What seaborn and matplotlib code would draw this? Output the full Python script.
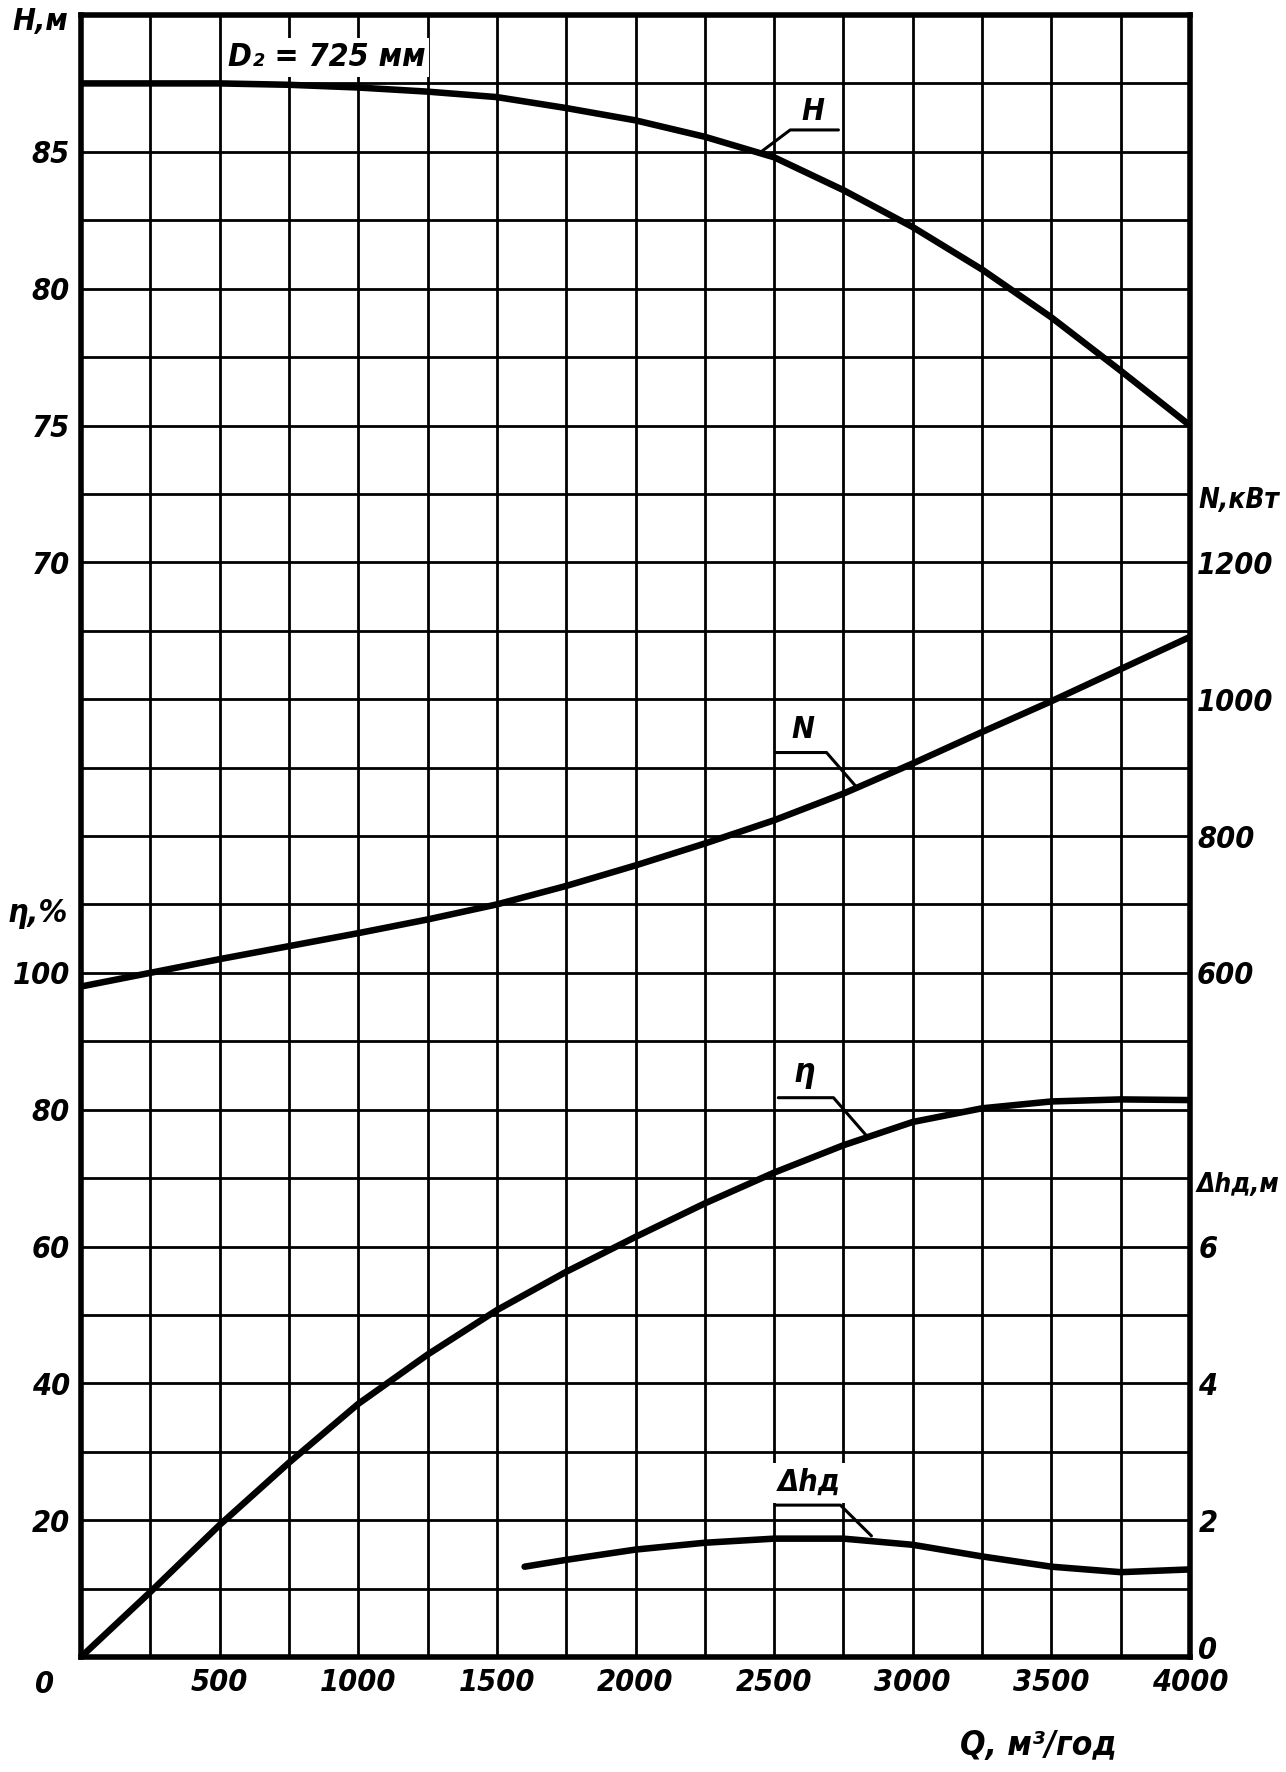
import numpy as np
import matplotlib
matplotlib.use('Agg')
import matplotlib.pyplot as plt
import seaborn as sns

# Pump curves, Q in m3/h
q = [0, 250, 500, 750, 1000, 1250, 1500, 1750, 2000, 2250, 2500, 2750, 3000, 3250, 3500, 3750, 4000]
head = [87.5, 87.5, 87.5, 87.45, 87.35, 87.2, 87.0, 86.6, 86.15, 85.55, 84.8, 83.6, 82.25, 80.7, 78.95, 77.0, 75.0]
power = [580, 600, 620, 639, 658, 678, 700, 727, 757, 789, 823, 862, 906, 952, 997, 1044, 1091]
eff = [0, 9.5, 19.3, 28.4, 37, 44.2, 50.7, 56.3, 61.4, 66.3, 70.8, 74.8, 78.2, 80.2, 81.2, 81.5, 81.4]
q_npsh = [1600, 1750, 2000, 2250, 2500, 2750, 3000, 3250, 3500, 3750, 4000]
npsh = [1.32, 1.42, 1.57, 1.67, 1.73, 1.73, 1.64, 1.47, 1.32, 1.24, 1.28]

# tick labels
q_ticks = [500, 1000, 1500, 2000, 2500, 3000, 3500, 4000]
h_ticks = [70, 75, 80, 85]
n_ticks = [600, 800, 1000, 1200]
eff_ticks = [20, 40, 60, 80, 100]
npsh_ticks = [2, 4, 6]

sns.set_theme(style='white')
plt.rcParams['font.family'] = ['DejaVu Sans']
plt.rcParams['font.style'] = 'oblique'
plt.rcParams['font.weight'] = 'bold'
plt.rcParams['font.stretch'] = 'condensed'
plt.rcParams['text.color'] = 'black'

W, H = 1286, 1772
fig, ax = plt.subplots(figsize=(W / 100, H / 100), dpi=100, facecolor='white')
fig.subplots_adjust(left=81 / W, right=1190 / W, bottom=1 - 1657 / H, top=1 - 15 / H)

ax_n = ax.twinx()
ax_eff = ax.twinx()
ax_dh = ax.twinx()

ax.set_xlim(0, 4000)
ax.set_ylim(30, 90)
ax_n.set_ylim(-400, 2000)
ax_eff.set_ylim(0, 240)
ax_dh.set_ylim(0, 24)

# grid: every 250 m3/h and every 2.5 m
ax.set_xticks([0] + q_ticks)
ax.set_xticklabels([''] + [str(t) for t in q_ticks])
ax.set_xticks(np.arange(0, 4001, 250), minor=True)
ax.set_yticks(h_ticks)
ax.set_yticks(np.arange(30, 90.01, 2.5), minor=True)
ax.grid(True, which='both', color='black', lw=2.0)
ax.tick_params(which='both', length=0, labelsize=22, colors='black')
ax.tick_params(axis='x', pad=8)
ax.tick_params(axis='y', pad=8)
for s in ax.spines.values():
    s.set_visible(True)
    s.set_color('black')
    s.set_linewidth(4)

for a in (ax_n, ax_eff, ax_dh):
    for s in a.spines.values():
        s.set_visible(False)
    a.grid(False)
    a.tick_params(length=0, labelsize=22, colors='black')

ax_n.set_yticks(n_ticks)
ax_n.tick_params(pad=5)
ax_eff.yaxis.tick_left()
ax_eff.set_yticks(eff_ticks)
ax_eff.tick_params(pad=8)
ax_dh.set_yticks(npsh_ticks)
ax_dh.tick_params(pad=6)

lw = 4.7
sns.lineplot(x=q, y=head, ax=ax, color='black', lw=lw, zorder=4)
sns.lineplot(x=q, y=power, ax=ax_n, color='black', lw=lw)
sns.lineplot(x=q, y=eff, ax=ax_eff, color='black', lw=lw)
sns.lineplot(x=q_npsh, y=npsh, ax=ax_dh, color='black', lw=lw)
for a in (ax, ax_n, ax_eff, ax_dh):
    a.set_xlabel('')
    a.set_ylabel('')

# curve labels with leader lines
fs = 22
ax.plot([2453, 2558, 2732], [85.0, 85.8, 85.8], color='black', lw=2.2, zorder=4)
ax.text(2640, 85.95, 'H', ha='center', va='bottom', fontsize=fs, zorder=5)
ax_n.plot([2794, 2689, 2504], [873, 922, 922], color='black', lw=2.2)
ax_n.text(2605, 934, 'N', ha='center', va='bottom', fontsize=fs)
ax_eff.plot([2833, 2714, 2515], [76.2, 81.75, 81.75], color='black', lw=2.2)
ax_eff.text(2610, 83.0, 'η', ha='center', va='bottom', fontsize=fs + 2)
ax_dh.plot([2851, 2739, 2504], [1.77, 2.22, 2.22], color='black', lw=2.2)
ax_dh.text(2625, 2.55, 'Δhд', ha='center', va='center', fontsize=fs,
           bbox=dict(facecolor='white', edgecolor='none', pad=4))
ax.text(885, 88.45, 'D₂ = 725 мм', ha='center', va='center', fontsize=fs + 1, zorder=3,
        bbox=dict(facecolor='white', edgecolor='none', pad=3))

# zero labels at the corners
ax.annotate('0', xy=(0, 0), xycoords='axes fraction', xytext=(-26, -20),
            textcoords='offset points', ha='center', va='center', fontsize=22)
ax_dh.annotate('0', xy=(1, 0), xycoords='axes fraction', xytext=(13, 5),
               textcoords='offset points', ha='center', va='center', fontsize=22)

# axis titles
fig.text(40 / W, 1 - 22 / H, 'H,м', ha='center', va='center', fontsize=22)
fig.text(1239 / W, 1 - 500 / H, 'N,кВт', ha='center', va='center', fontsize=20)
fig.text(38 / W, 1 - 913 / H, 'η,%', ha='center', va='center', fontsize=23)
fig.text(1238 / W, 1 - 1185 / H, 'Δhд,м', ha='center', va='center', fontsize=19)
fig.text(1038 / W, 1 - 1746 / H, 'Q, м³/год', ha='center', va='center', fontsize=24)

fig.savefig('out.png', dpi=100, facecolor='white')
